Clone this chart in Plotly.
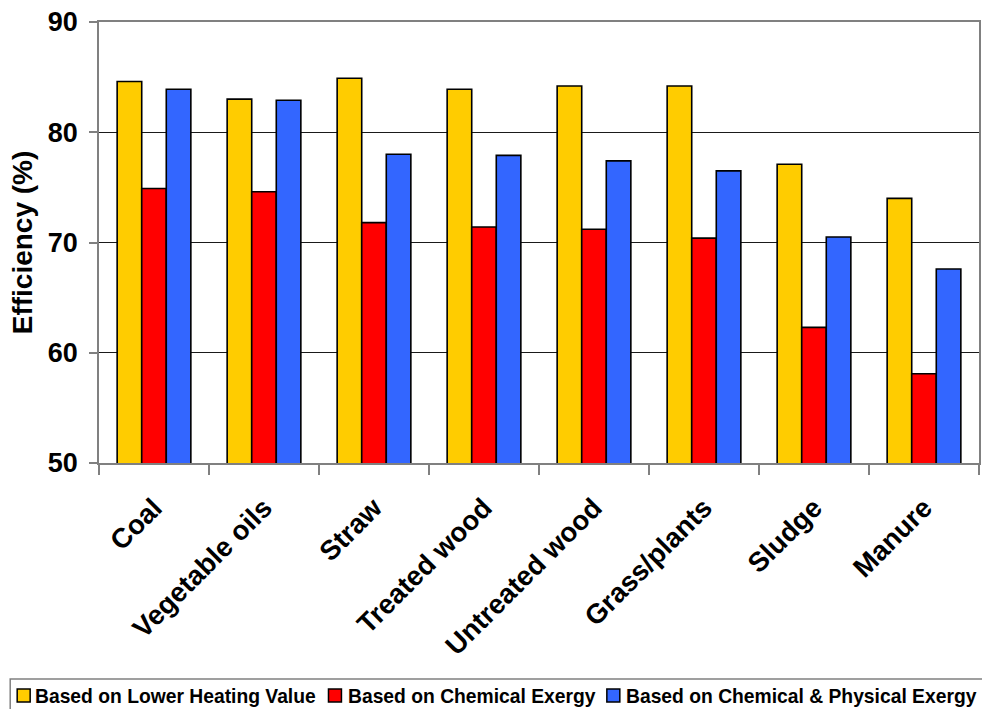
import plotly.graph_objects as go

# Fuel categories and efficiency values (%)
fuels = ["Coal", "Vegetable oils", "Straw", "Treated wood", "Untreated wood",
         "Grass/plants", "Sludge", "Manure"]
lower_heating_value = [84.6, 83.0, 84.9, 83.9, 84.2, 84.2, 77.1, 74.0]
chemical_exergy = [74.9, 74.6, 71.8, 71.4, 71.2, 70.4, 62.3, 58.1]
chem_phys_exergy = [83.9, 82.9, 78.0, 77.9, 77.4, 76.5, 70.5, 67.6]

series_names = ["Based on Lower Heating Value", "Based on Chemical Exergy",
                "Based on Chemical & Physical Exergy"]
series_values = [lower_heating_value, chemical_exergy, chem_phys_exergy]
series_colors = ["#FFCC00", "#FF0000", "#3366FF"]

y_ticks = [50, 60, 70, 80, 90]

W, H = 982, 709
M_L, M_R, M_T, M_B = 99, 1, 22, 246
FONT = "Liberation Sans, Arial, sans-serif"

fig = go.Figure()
for name, vals, col in zip(series_names, series_values, series_colors):
    fig.add_trace(go.Bar(
        x=fuels, y=vals, name=name,
        marker=dict(color=col, line=dict(color="#000000", width=1.6)),
        showlegend=False,
    ))

# Helpers converting pixel positions to paper coordinates for the key box
pw = W - M_L - M_R
ph = H - M_T - M_B


def px_x(px):
    return (px - M_L) / pw


def px_y(py):
    return (H - M_B - py) / ph


shapes = [
    dict(type="rect", xref="paper", yref="paper",
         x0=px_x(10), x1=px_x(1000), y0=px_y(679), y1=px_y(720),
         line=dict(color="#808080", width=1.5), fillcolor="rgba(0,0,0,0)",
         layer="above"),
]
annotations = []
key_square_x = [17, 329, 608]
key_text_x = [33, 347, 625]
for sx, tx, name, col in zip(key_square_x, key_text_x, series_names, series_colors):
    shapes.append(dict(type="rect", xref="paper", yref="paper",
                       x0=px_x(sx), x1=px_x(sx + 13), y0=px_y(702), y1=px_y(689),
                       fillcolor=col, line=dict(color="#000000", width=1.5),
                       layer="above"))
    annotations.append(dict(xref="paper", yref="paper", x=px_x(tx), y=px_y(696),
                            xanchor="left", yanchor="middle", showarrow=False,
                            text=name,
                            font=dict(family=FONT, size=19.3, color="#000000",
                                      weight="bold")))

fig.update_layout(
    width=W, height=H,
    margin=dict(l=M_L, r=M_R, t=M_T, b=M_B, pad=0),
    paper_bgcolor="white", plot_bgcolor="white",
    barmode="group", bargap=0.33, bargroupgap=0,
    font=dict(family=FONT, color="#000000"),
    shapes=shapes, annotations=annotations,
    showlegend=False,
)

fig.update_xaxes(
    type="category",
    showline=True, linecolor="#808080", linewidth=1.5, mirror=True,
    ticks="outside", tickson="boundaries", ticklen=10, tickcolor="#808080",
    tickwidth=1.5,
    tickangle=-45, ticklabelstandoff=16,
    tickfont=dict(family=FONT, size=27.5, color="#000000", weight="bold"),
    showgrid=False,
)

fig.update_yaxes(
    range=[50, 90],
    tickvals=y_ticks,
    showline=True, linecolor="#808080", linewidth=1.5, mirror=True,
    ticks="outside", ticklen=8, tickcolor="#808080", tickwidth=1.5,
    ticklabelstandoff=6,
    tickfont=dict(family=FONT, size=27, color="#000000", weight="bold"),
    showgrid=True, gridcolor="#1a1a1a", gridwidth=1,
    zeroline=False,
    title=dict(text="Efficiency (%)", standoff=7,
               font=dict(family=FONT, size=28, color="#000000", weight="bold")),
)

fig.write_html("out.html")
